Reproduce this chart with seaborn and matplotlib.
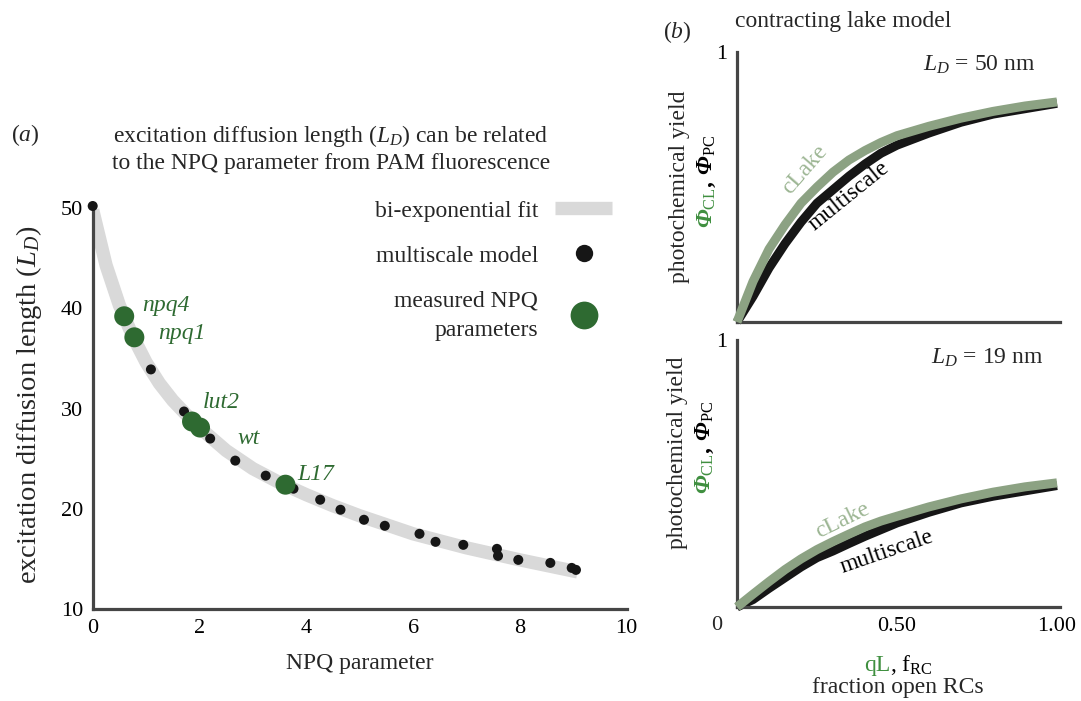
import numpy as np
import pandas as pd
import seaborn as sns
import matplotlib.pyplot as plt
from matplotlib.lines import Line2D

# ---------------- data: panel (a) ----------------
npq_model = [0.0, 1.09, 1.71, 2.20, 2.67, 3.24, 3.76, 4.26, 4.64, 5.08, 5.47,
             6.12, 6.42, 6.94, 7.57, 7.59, 7.97, 8.57, 8.97, 9.05]
ld_model = [50.2, 33.9, 29.7, 27.0, 24.8, 23.3, 22.0, 20.9, 19.9, 18.9, 18.3,
            17.5, 16.7, 16.4, 16.0, 15.3, 14.9, 14.6, 14.1, 13.9]

npq_fit = [0.0, 0.25, 0.5, 0.75, 1.0, 1.25, 1.5, 1.75, 2.0, 2.5, 3.0, 3.5,
           4.0, 4.5, 5.0, 6.0, 7.0, 8.0, 9.08]
ld_fit = [49.8, 44.3, 40.3, 37.2, 34.6, 32.5, 30.8, 29.4, 28.1, 25.8, 24.0,
          22.6, 21.4, 20.3, 19.3, 17.5, 16.1, 14.9, 13.7]

mutants = ["npq4", "npq1", "lut2", "wt", "L17"]
npq_meas = [0.59, 0.78, 1.86, 2.01, 3.61]
ld_meas = [39.2, 37.1, 28.7, 28.1, 22.4]

# ---------------- data: panel (b) ----------------
q_open = [0.0, 0.05, 0.1, 0.15, 0.2, 0.25, 0.3, 0.35, 0.4, 0.45, 0.5, 0.6, 0.7, 0.8, 0.9, 1.0]
clake_50 = [0.0, 0.15, 0.27, 0.36, 0.44, 0.50, 0.555, 0.60, 0.635, 0.665, 0.69, 0.725, 0.755, 0.78, 0.80, 0.815]
multi_50 = [0.0, 0.095, 0.20, 0.29, 0.37, 0.44, 0.49, 0.54, 0.585, 0.625, 0.655, 0.70, 0.74, 0.77, 0.79, 0.81]
clake_19 = [0.0, 0.048, 0.095, 0.14, 0.18, 0.215, 0.245, 0.273, 0.30, 0.322, 0.34, 0.375, 0.405, 0.43, 0.45, 0.465]
multi_19 = [0.0, 0.028, 0.07, 0.11, 0.15, 0.185, 0.21, 0.238, 0.265, 0.29, 0.315, 0.355, 0.39, 0.415, 0.435, 0.455]

# ---------------- style ----------------
sns.set_theme(style="white")
plt.rcParams["font.family"] = ["Liberation Serif", "DejaVu Serif"]
plt.rcParams["mathtext.fontset"] = "custom"
plt.rcParams["mathtext.rm"] = "Liberation Serif"
plt.rcParams["mathtext.it"] = "Liberation Serif:italic"
plt.rcParams["mathtext.bf"] = "Liberation Serif:bold"

FS = 17
TFS = 16
SPINE = "#454545"
DARKGREEN = "#2e6a31"
LABELGREEN = "#3f8f3f"
CLAKE = "#8ca283"
CLAKE_TXT = "#9db694"
BAND = "#d9d9d9"
DOT = "#161616"

W, H = 1081, 701
fig = plt.figure(figsize=(W / 100, H / 100), dpi=100)


def fx(px):
    return px / W


def fy(py):
    return 1 - py / H


def style_axes(ax):
    for s in ["top", "right"]:
        ax.spines[s].set_visible(False)
    for s in ["left", "bottom"]:
        ax.spines[s].set_color(SPINE)
        ax.spines[s].set_linewidth(2.3)
    ax.tick_params(direction="in", length=4, width=2, color=SPINE,
                   labelsize=TFS, pad=7, labelcolor="black")
    ax.set_xlabel("")
    ax.set_ylabel("")


# ---------------- panel (a) ----------------
axA = fig.add_axes([fx(92.7), fy(609), fx(626.7) - fx(92.7), fy(208) - fy(609)])

fit_df = pd.DataFrame({"npq": npq_fit, "ld": ld_fit})
model_df = pd.DataFrame({"npq": npq_model, "ld": ld_model})
meas_df = pd.DataFrame({"npq": npq_meas, "ld": ld_meas, "name": mutants})

sns.lineplot(data=fit_df, x="npq", y="ld", ax=axA, color=BAND, lw=9.6,
             solid_capstyle="butt", solid_joinstyle="round", zorder=1, sort=False)
sns.scatterplot(data=model_df, x="npq", y="ld", ax=axA, color=DOT, s=52,
                edgecolor="none", zorder=3, clip_on=False, legend=False)
sns.scatterplot(data=meas_df, x="npq", y="ld", ax=axA, color=DARKGREEN, s=207,
                edgecolor="none", zorder=4, clip_on=False, legend=False)

axA.set_xlim(0, 10)
axA.set_ylim(10, 50)
axA.set_xticks([0, 2, 4, 6, 8, 10])
axA.set_yticks([10, 20, 30, 40, 50])
style_axes(axA)

# mutant labels (pixel positions of label left edge / centre)
lab_pos = {"npq4": (142, 305), "npq1": (158, 333), "lut2": (203, 403),
           "wt": (237, 438), "L17": (297, 474)}
for name in mutants:
    px, py = lab_pos[name]
    fig.text(fx(px), fy(py), name, color=DARKGREEN, fontsize=FS,
             style="italic", ha="left", va="center")

# legend
handles = [
    Line2D([], [], color=BAND, lw=9.6, solid_capstyle="butt"),
    Line2D([], [], color=DOT, marker="o", ls="none", markersize=12.5, markeredgewidth=0),
    Line2D([], [], color=DARKGREEN, marker="o", ls="none", markersize=20, markeredgewidth=0),
]
labels = ["bi-exponential fit", "multiscale model", "measured NPQ\nparameters"]
leg = axA.legend(handles, labels, loc="upper right",
                 bbox_to_anchor=(fx(612), fy(200)), bbox_transform=fig.transFigure,
                 frameon=False, fontsize=FS, markerfirst=False, borderpad=0,
                 borderaxespad=0, handlelength=2.4, handletextpad=0.72,
                 labelspacing=1.0, numpoints=1)
leg.get_texts()[2].set_multialignment("right")
leg.get_texts()[2].set_linespacing(1.55)

axA.text(0.5, (609 - 663) / (609 - 208), "NPQ parameter", transform=axA.transAxes,
         fontsize=FS, ha="center", va="center")

fig.text(fx(29), fy(405), r"excitation diffusion length ($L_D$)", rotation=90,
         fontsize=20.5, ha="center", va="center")
fig.text(fx(331), fy(148.5),
         "excitation diffusion length ($L_D$) can be related\n"
         "to the NPQ parameter from PAM fluorescence",
         fontsize=FS, ha="center", va="center", multialignment="center")
fig.text(fx(25), fy(135), r"($\mathit{a}$)", fontsize=FS, ha="center", va="center")

# ---------------- panel (b) ----------------
axB1 = fig.add_axes([fx(737), fy(322), 1.01 * (fx(1057) - fx(737)), fy(52) - fy(322)])
axB2 = fig.add_axes([fx(737), fy(607), 1.01 * (fx(1057) - fx(737)), fy(340) - fy(607)])

curves = [(axB1, multi_50, clake_50), (axB2, multi_19, clake_19)]
for ax, ms, cl in curves:
    d = pd.DataFrame({"q": q_open, "multiscale": ms, "cLake": cl})
    sns.lineplot(data=d, x="q", y="multiscale", ax=ax, color=DOT, lw=6.5,
                 solid_capstyle="butt", solid_joinstyle="round", zorder=2, clip_on=False)
    sns.lineplot(data=d, x="q", y="cLake", ax=ax, color=CLAKE, lw=6.5,
                 solid_capstyle="butt", solid_joinstyle="round", zorder=3, clip_on=False)
    ax.set_xlim(0, 1.01)
    ax.set_ylim(0, 1)
    ax.set_xticks([0, 0.5, 1.0])
    ax.set_yticks([0, 0.5, 1.0])
    style_axes(ax)
    ax.tick_params(length=3)
    ax.set_yticklabels(["", "", "1"])

axB1.set_xticklabels(["", "", ""])
axB2.set_xticklabels(["", "0.50", "1.00"])
fig.text(fx(717), fy(625), "0", fontsize=TFS, ha="center", va="center")

# curve labels
fig.text(fx(805), fy(170), "cLake", color=CLAKE_TXT, fontsize=FS, rotation=49,
         ha="center", va="center", rotation_mode="anchor")
fig.text(fx(849), fy(196), "multiscale", color="black", fontsize=FS, rotation=39,
         ha="center", va="center", rotation_mode="anchor")
fig.text(fx(843), fy(520), "cLake", color=CLAKE_TXT, fontsize=FS, rotation=26,
         ha="center", va="center", rotation_mode="anchor")
fig.text(fx(887), fy(552), "multiscale", color="black", fontsize=FS, rotation=19,
         ha="center", va="center", rotation_mode="anchor")

fig.text(fx(979), fy(65), r"$L_D$ = 50 nm", fontsize=FS, ha="center", va="center")
fig.text(fx(987), fy(358), r"$L_D$ = 19 nm", fontsize=FS, ha="center", va="center")

fig.text(fx(735), fy(22), "contracting lake model", fontsize=FS, ha="left", va="center")
fig.text(fx(677), fy(32), r"($\mathit{b}$)", fontsize=FS, ha="center", va="center")

# y labels for panel (b)
for ycen, xl, xp in [(187, 680, 707), (453, 677, 705)]:
    fig.text(fx(xl), fy(ycen), "photochemical yield", rotation=90, fontsize=FS,
             ha="center", va="center")
    fig.text(fx(xp), fy(ycen), r"Φ$_{\mathrm{CL}}$", rotation=90, fontsize=FS,
             color=LABELGREEN, style="italic", weight="bold", ha="center", va="top")
    fig.text(fx(xp), fy(ycen), r", Φ$_{\mathrm{PC}}$", rotation=90, fontsize=FS,
             color="black", style="italic", weight="bold", ha="center", va="bottom")

# x label for panel (b)
fig.text(fx(890), fy(671), "qL", fontsize=FS, color=LABELGREEN, ha="right", va="baseline")
fig.text(fx(890), fy(671), r", f$_{\mathrm{RC}}$", fontsize=FS, color="black",
         ha="left", va="baseline")
fig.text(fx(898), fy(688), "fraction open RCs", fontsize=FS, ha="center", va="center")

fig.savefig("out.png", dpi=100)
